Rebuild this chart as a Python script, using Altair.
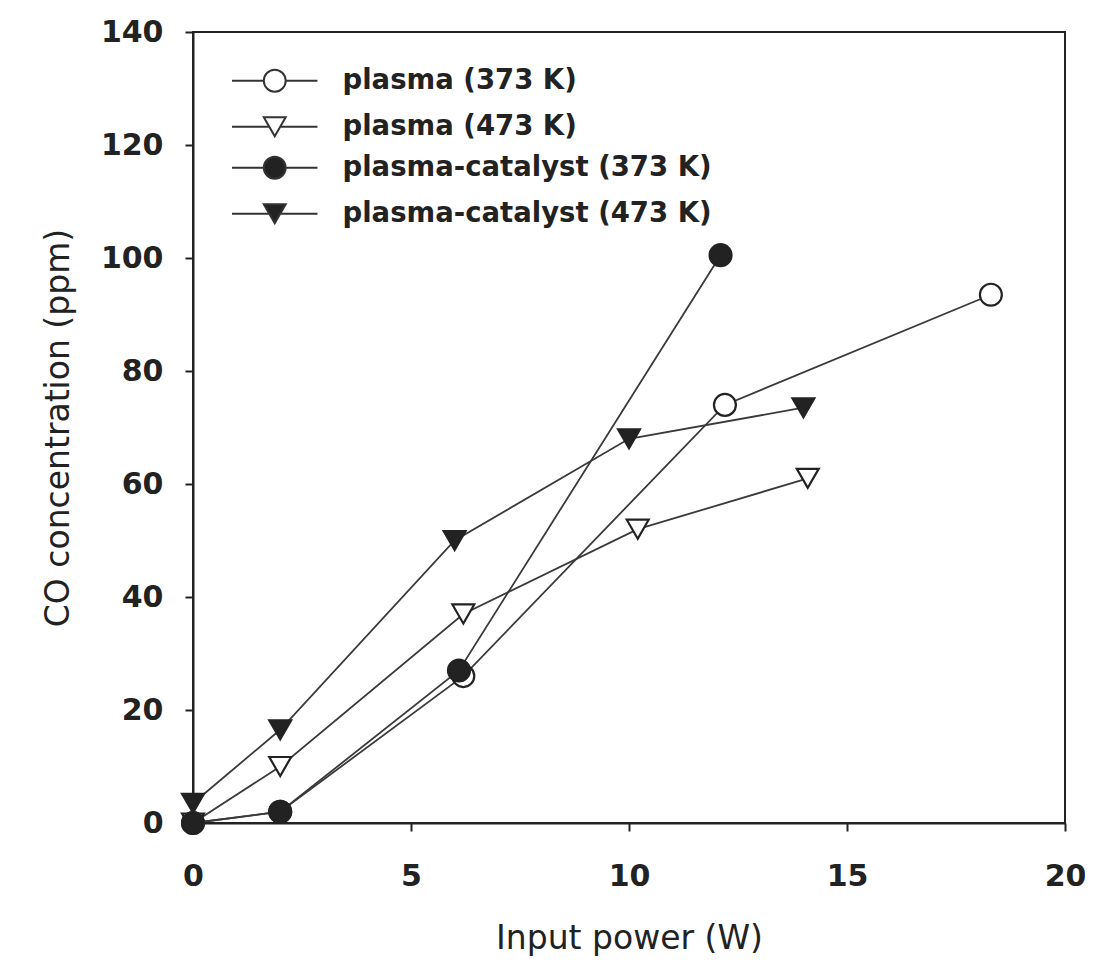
import altair as alt
import pandas as pd

series = ["plasma (373 K)", "plasma (473 K)", "plasma-catalyst (373 K)", "plasma-catalyst (473 K)"]

x_p373 = [0, 2, 6.2, 12.2, 18.3]
y_p373 = [0, 2, 26, 74, 93.5]
x_p473 = [0, 2, 6.2, 10.2, 14.1]
y_p473 = [0, 10, 37, 52, 61]
x_pc373 = [0, 2, 6.1, 12.1]
y_pc373 = [0, 2, 27, 100.5]
x_pc473 = [0, 2, 6, 10, 14]
y_pc473 = [3.5, 16.5, 50, 68, 73.5]

filled_flags = [False, False, True, True]
marker_shapes = ["circle", "triangle-down", "circle", "triangle-down"]

x_ticks = [0, 5, 10, 15, 20]
y_ticks = [0, 20, 40, 60, 80, 100, 120, 140]

# legend symbols: marker with a line through it
circle_path = "M-1,0A1,1,0,1,1,1,0A1,1,0,1,1,-1,0Z M-3.9,0L-1,0 M1,0L3.9,0"
tri_path = "M0,0.866L-1,-0.866L1,-0.866Z M-3.9,0L-0.5,0 M0.5,0L3.9,0"
legend_paths = [circle_path, tri_path, circle_path, tri_path]

rows = []
for name, xs, ys, f in zip(series, [x_p373, x_p473, x_pc373, x_pc473],
                           [y_p373, y_p473, y_pc373, y_pc473], filled_flags):
    for xv, yv in zip(xs, ys):
        rows.append({"series": name, "power": xv, "co": yv, "filled": f})
df = pd.DataFrame(rows)

label_font = "DejaVu Sans"
title_font = "DejaVu Sans"
ink = "#222222"

x_enc = alt.X(
    "power:Q",
    scale=alt.Scale(domain=[0, 20], nice=False, zero=False),
    axis=alt.Axis(values=x_ticks, title="Input power (W)", format="d",
                  labelPadding=30, titlePadding=31, titleFontSize=33,
                  labelFlush=False),
)
y_enc = alt.Y(
    "co:Q",
    scale=alt.Scale(domain=[0, 140], nice=False),
    axis=alt.Axis(values=y_ticks, title="CO concentration (ppm)", format="d",
                  labelPadding=22, titlePadding=25, titleFontSize=33,
                  labelFlush=False),
)

base = alt.Chart(df)

lines = base.mark_line(color="#3a3a3a", strokeWidth=1.8).encode(
    x=x_enc, y=y_enc, detail="series:N", order="power:Q"
)

shape_scale = alt.Scale(domain=series, range=marker_shapes)

open_pts = base.transform_filter("!datum.filled").mark_point(
    filled=True, fill="white", stroke=ink, strokeWidth=2.2, size=480, opacity=1
).encode(x=x_enc, y=y_enc, shape=alt.Shape("series:N", scale=shape_scale, legend=None))

filled_pts = base.transform_filter("datum.filled").mark_point(
    filled=True, fill=ink, stroke=ink, strokeWidth=2.2, size=480, opacity=1
).encode(x=x_enc, y=y_enc, shape=alt.Shape("series:N", scale=shape_scale, legend=None))


def make_legend(ly):
    return alt.Legend(
        title=None, orient="none", legendX=68, legendY=ly,
        labelFont=label_font, labelFontWeight="bold", labelFontSize=27.5,
        labelColor=ink, labelOffset=54, labelLimit=0, rowPadding=16,
        padding=0, symbolSize=480, symbolStrokeWidth=2, symbolOpacity=1,
    )


def legend_layer(names, paths, fill_color, ly):
    return base.transform_filter("false").mark_point(
        filled=True, fill=fill_color, strokeWidth=2, size=480, opacity=1
    ).encode(
        x=x_enc,
        y=y_enc,
        shape=alt.Shape(
            "series:N",
            scale=alt.Scale(domain=names, range=paths),
            legend=make_legend(ly),
        ),
        stroke=alt.Stroke(
            "series:N",
            scale=alt.Scale(domain=names, range=["#333333"] * len(names)),
            legend=make_legend(ly),
        ),
    )


legend_open = legend_layer(series[:2], legend_paths[:2], "white", 35)
legend_filled = legend_layer(series[2:], legend_paths[2:], ink, 122)

chart = (
    alt.layer(lines, open_pts, filled_pts, legend_open, legend_filled)
    .resolve_scale(shape="independent", stroke="independent")
    .resolve_legend(shape="independent", stroke="independent")
    .properties(
        width=872,
        height=791,
        autosize=alt.AutoSizeParams(type="none"),
        padding={"left": 185, "top": 24, "right": 20, "bottom": 136},
        background="white",
    )
    .configure_view(stroke=ink, strokeWidth=2)
    .configure_axis(
        grid=False,
        domainColor=ink,
        domainWidth=2,
        tickColor=ink,
        tickWidth=2,
        tickSize=8,
        labelFont=label_font,
        labelFontWeight="bold",
        labelFontSize=30,
        labelColor=ink,
        titleFont=title_font,
        titleFontWeight="normal",
        titleColor=ink,
    )
)

chart.save("out.html", embed_options={"renderer": "svg", "actions": False})
